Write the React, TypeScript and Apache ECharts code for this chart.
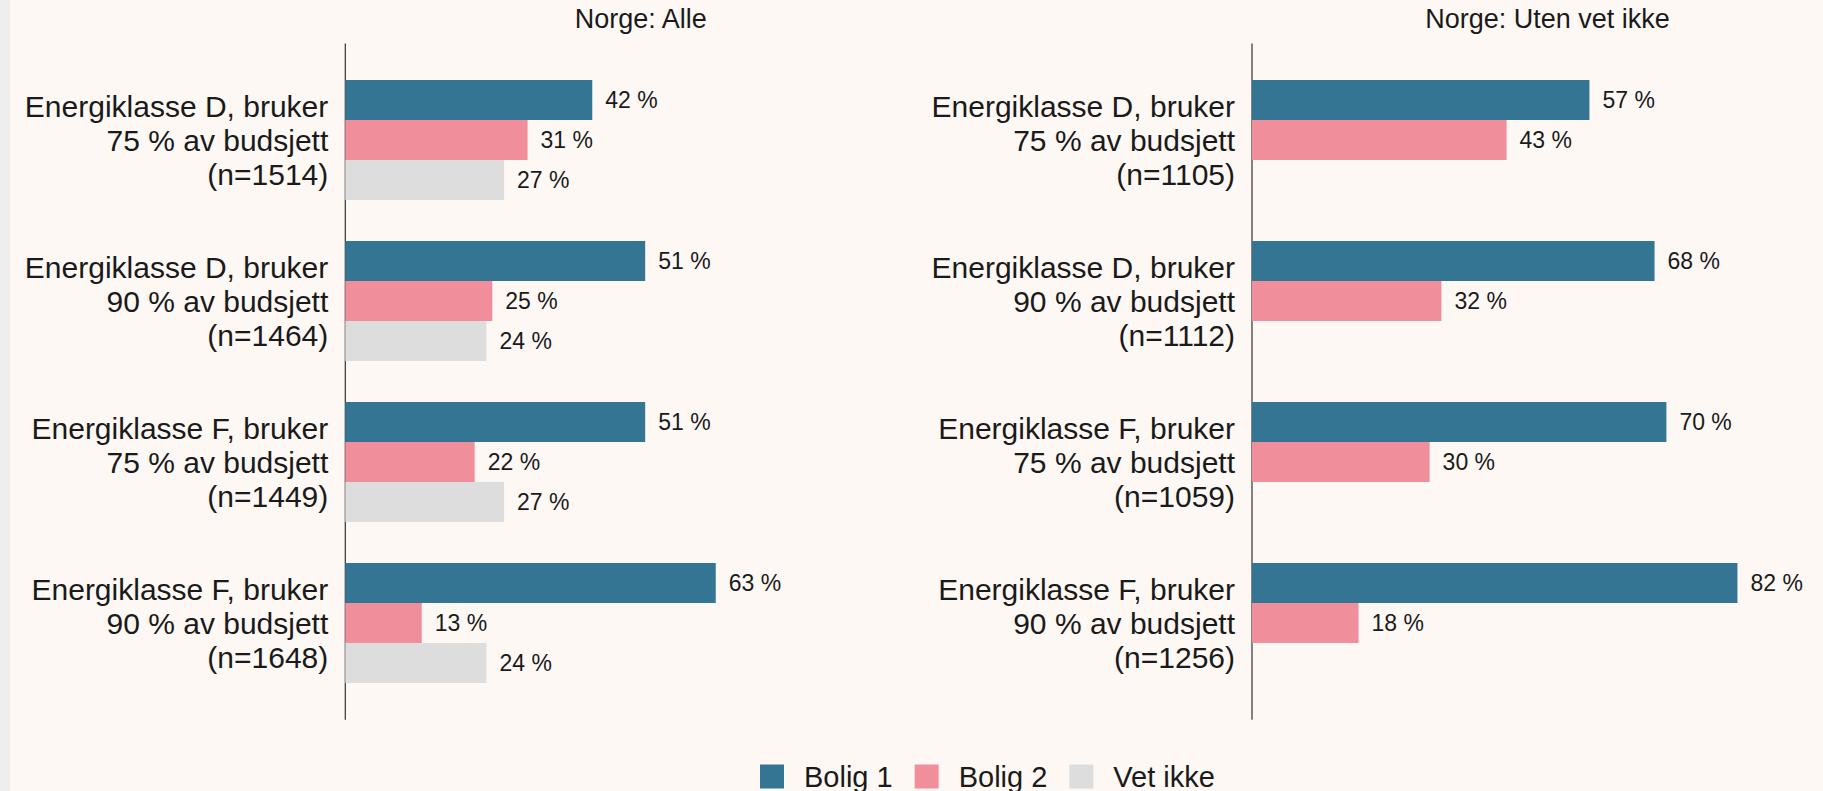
import React, { useEffect, useRef } from "react";
import * as echarts from "echarts";

// ---- data ----
const categoriesLeft = [
  "Energiklasse D, bruker\n75 % av budsjett\n(n=1514)",
  "Energiklasse D, bruker\n90 % av budsjett\n(n=1464)",
  "Energiklasse F, bruker\n75 % av budsjett\n(n=1449)",
  "Energiklasse F, bruker\n90 % av budsjett\n(n=1648)",
];
const categoriesRight = [
  "Energiklasse D, bruker\n75 % av budsjett\n(n=1105)",
  "Energiklasse D, bruker\n90 % av budsjett\n(n=1112)",
  "Energiklasse F, bruker\n75 % av budsjett\n(n=1059)",
  "Energiklasse F, bruker\n90 % av budsjett\n(n=1256)",
];
const seriesNames = ["Bolig 1", "Bolig 2", "Vet ikke"];
const leftBolig1 = [42, 51, 51, 63];
const leftBolig2 = [31, 25, 22, 13];
const leftVetIkke = [27, 24, 27, 24];
const rightBolig1 = [57, 68, 70, 82];
const rightBolig2 = [43, 32, 30, 18];
const rightVetIkke: (number | string)[] = ["-", "-", "-", "-"];
const panelTitles = ["Norge: Alle", "Norge: Uten vet ikke"];

// ---- styles / layout ----
const COLORS = ["#357594", "#f08e9b", "#dddddd"];
const BG = "#fdf8f4";
const TEXT = "#1a1a1a";
const FONT = "Liberation Sans, Arial, sans-serif";
const W = 1813;
const H = 791;
const GRID_TOP = 59.6;
const GRID_H = 644;
const PX_PER_UNIT = [5.88, 5.92];
const X_MAX = 95;
const PANEL_LEFT = [335.3, 1242];
const PANEL_W = 591;
const EXPAND = (GRID_H / 4) * 0.1;

export default function App() {
  const ref = useRef<HTMLDivElement>(null);
  useEffect(() => {
    document.body.style.margin = "0";
    if (!ref.current) return;
    const chart = echarts.init(ref.current, null, { renderer: "svg" });
    const cats = [categoriesLeft, categoriesRight];
    const data = [
      [leftBolig1, leftBolig2, leftVetIkke],
      [rightBolig1, rightBolig2, rightVetIkke],
    ];
    const series: any[] = [];
    [0, 1].forEach((p) => {
      seriesNames.forEach((name, i) => {
        series.push({
          type: "bar",
          name,
          xAxisIndex: p,
          yAxisIndex: p,
          data: data[p][i],
          barWidth: 40,
          barGap: "0%",
          itemStyle: { color: COLORS[i] },
          label: {
            show: true,
            position: "right",
            distance: 13,
            formatter: "{c} %",
            fontSize: 23,
            fontFamily: FONT,
            color: TEXT,
          },
        });
      });
    });
    const graphics: any[] = [];
    [0, 1].forEach((p) => {
      graphics.push({
        type: "line",
        shape: {
          x1: PANEL_LEFT[p],
          y1: GRID_TOP - EXPAND,
          x2: PANEL_LEFT[p],
          y2: GRID_TOP + GRID_H + EXPAND,
        },
        style: { stroke: "#333333", lineWidth: 1.2 },
        silent: true,
      });
      graphics.push({
        type: "text",
        x: PANEL_LEFT[p] + PANEL_W / 2,
        y: 19,
        style: {
          text: panelTitles[p],
          fontSize: 27,
          fontFamily: FONT,
          fill: TEXT,
          textAlign: "center",
          textVerticalAlign: "middle",
        },
        silent: true,
      });
    });
    chart.setOption({
      animation: false,
      backgroundColor: BG,
      textStyle: { fontFamily: FONT },
      grid: [0, 1].map((p) => ({
        left: PANEL_LEFT[p],
        top: GRID_TOP,
        width: X_MAX * PX_PER_UNIT[p],
        height: GRID_H,
        containLabel: false,
        outerBoundsMode: "none",
      })),
      xAxis: [0, 1].map((p) => ({
        type: "value",
        gridIndex: p,
        min: 0,
        max: X_MAX,
        show: false,
      })),
      yAxis: [0, 1].map((p) => ({
        type: "category",
        gridIndex: p,
        data: cats[p],
        inverse: true,
        axisLine: { show: false },
        axisTick: { show: false },
        splitLine: { show: false },
        axisLabel: {
          fontSize: 30,
          lineHeight: 34,
          margin: 17,
          color: TEXT,
          fontFamily: FONT,
          align: "right",
        },
      })),
      legend: {
        data: seriesNames,
        left: 750,
        top: 762,
        padding: 0,
        itemWidth: 24,
        itemHeight: 24,
        itemGap: 22,
        icon: "rect",
        textStyle: {
          fontSize: 29,
          fontFamily: FONT,
          color: TEXT,
          padding: [0, 0, 0, 15],
        },
      },
      graphic: graphics,
      series,
    });
    return () => chart.dispose();
  }, []);
  return (
    <div style={{ width: 1823, height: H, background: "#eeeeee", position: "relative" }}>
      <div ref={ref} style={{ position: "absolute", left: 10, top: 0, width: W, height: H }} />
    </div>
  );
}
